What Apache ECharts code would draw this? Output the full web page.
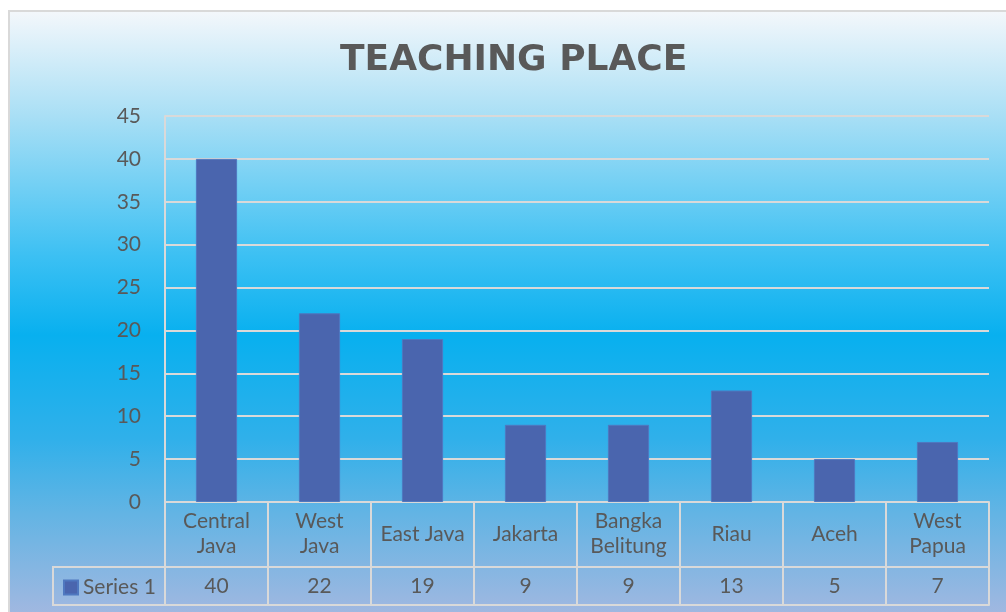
<!DOCTYPE html>
<html>
<head>
<meta charset="utf-8">
<title>Teaching Place</title>
<script src="https://cdn.jsdelivr.net/npm/echarts@6/dist/echarts.min.js"></script>
<style>
  html, body { margin: 0; padding: 0; background: #fff; }
  #wrap { position: relative; width: 1006px; height: 612px; overflow: hidden; }
  #bg {
    position: absolute; left: 8px; top: 10px; width: 1010px; height: 610px;
    border-left: 2px solid #d9d9d9; border-top: 2px solid #d9d9d9;
    background: linear-gradient(to bottom, #f3f7fb 0%, #a9dff5 17%, #3cc0f3 40%, #08b0ef 53%, #30b0ea 70%, #62b4e4 82%, #a6b8e0 100%);
  }
  #chart { position: absolute; left: 0; top: 0; width: 1006px; height: 612px; }
</style>
</head>
<body>
<div id="wrap">
  <div id="bg"></div>
  <div id="chart"></div>
</div>
<script>
// 数据
var categories = ['Central\nJava', 'West\nJava', 'East Java', 'Jakarta', 'Bangka\nBelitung', 'Riau', 'Aceh', 'West\nPapua']
var values = [40, 22, 19, 9, 9, 13, 5, 7]
var seriesName = 'Series 1'

var textColor = '#595959'
var lineColor = '#d9d9d9'
var font = 'Lato, "Open Sans", sans-serif'

var chart = echarts.init(document.getElementById('chart'), null, { renderer: 'canvas' })

chart.setOption({
  backgroundColor: 'transparent',
  animation: false,
  title: {
    text: 'TEACHING PLACE',
    left: 335,
    top: 38,
    textStyle: {
      color: textColor,
      fontSize: 36,
      fontWeight: 'bold',
      fontFamily: '"DejaVu Sans", sans-serif'
    }
  },
  legend: {
    data: [seriesName],
    left: 58,
    top: 572,
    itemWidth: 14,
    itemHeight: 14,
    itemGap: 4,
    icon: 'rect',
    textStyle: { color: textColor, fontSize: 21, fontFamily: font }
  },
  grid: { left: 165, right: 17, top: 116, bottom: 110 },
  xAxis: [
    {
      // 类目行
      type: 'category',
      data: categories,
      position: 'bottom',
      axisLine: { show: true, lineStyle: { color: lineColor, width: 2 } },
      axisTick: { show: true, length: 103, lineStyle: { color: lineColor, width: 2 } },
      axisLabel: {
        color: textColor, fontSize: 21, fontFamily: font,
        margin: 32, verticalAlign: 'middle', lineHeight: 25, interval: 0
      }
    },
    {
      // 数值行
      type: 'category',
      data: categories,
      position: 'bottom',
      offset: 65,
      axisLine: { show: true, lineStyle: { color: lineColor, width: 2 } },
      axisTick: { show: false },
      axisLabel: {
        color: textColor, fontSize: 21, fontFamily: font,
        margin: 19, verticalAlign: 'middle', interval: 0,
        formatter: function(v, i) { return String(values[i]) }
      }
    },
    {
      // 表格底边
      type: 'category',
      data: categories,
      position: 'bottom',
      offset: 103,
      axisLine: { show: true, lineStyle: { color: lineColor, width: 2 } },
      axisTick: { show: false },
      axisLabel: { show: false }
    }
  ],
  yAxis: {
    type: 'value',
    min: 0,
    max: 45,
    interval: 5,
    axisLine: { show: true, lineStyle: { color: lineColor, width: 2 } },
    axisTick: { show: false },
    axisLabel: { color: textColor, fontSize: 21, fontFamily: font, margin: 24 },
    splitLine: { show: true, lineStyle: { color: lineColor, width: 2 } }
  },
  graphic: [
    // 左侧图例单元格边框
    { type: 'line', shape: { x1: 53, y1: 567, x2: 166, y2: 567 }, style: { stroke: lineColor, lineWidth: 2 } },
    { type: 'line', shape: { x1: 53, y1: 605, x2: 166, y2: 605 }, style: { stroke: lineColor, lineWidth: 2 } },
    { type: 'line', shape: { x1: 53, y1: 566, x2: 53, y2: 606 }, style: { stroke: lineColor, lineWidth: 2 } },
    { type: 'line', shape: { x1: 165, y1: 502, x2: 165, y2: 606 }, style: { stroke: lineColor, lineWidth: 2 } }
  ],
  series: [
    {
      name: seriesName,
      type: 'bar',
      data: values,
      barWidth: '40%',
      itemStyle: { color: '#4a65ae', borderColor: '#4f78c0', borderWidth: 1 }
    }
  ]
})
</script>
</body>
</html>
